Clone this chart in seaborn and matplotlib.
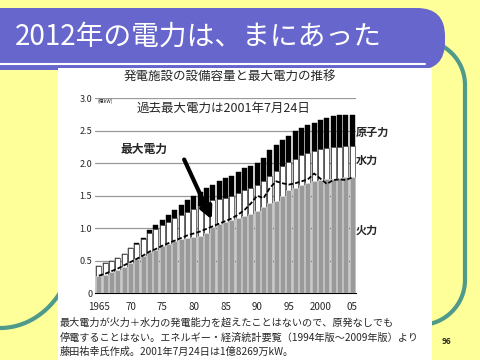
import matplotlib
matplotlib.use("Agg")
import matplotlib.pyplot as plt
import seaborn as sns
import numpy as np
import pandas as pd
from matplotlib.patches import FancyBboxPatch, Rectangle, PathPatch
from matplotlib.path import Path

sns.set_theme(style="white")
plt.rcParams['font.family'] = ['Noto Sans CJK JP', 'DejaVu Sans']

# ---- data (億kW) ----
years = list(range(1965, 2006))
thermal = [0.26, 0.28, 0.32, 0.36, 0.41, 0.47, 0.52, 0.57, 0.63, 0.67,
           0.72, 0.76, 0.80, 0.83, 0.85, 0.86, 0.88, 0.92, 1.02, 1.06,
           1.10, 1.12, 1.15, 1.18, 1.22, 1.27, 1.32, 1.38, 1.42, 1.50,
           1.58, 1.62, 1.66, 1.70, 1.72, 1.74, 1.75, 1.76, 1.77, 1.78, 1.79]
thermal_hydro = [0.42, 0.46, 0.50, 0.54, 0.61, 0.69, 0.76, 0.83, 0.93, 0.99,
                 1.05, 1.10, 1.15, 1.20, 1.25, 1.30, 1.34, 1.38, 1.43, 1.45,
                 1.47, 1.50, 1.54, 1.58, 1.62, 1.67, 1.72, 1.80, 1.88, 1.96,
                 2.02, 2.07, 2.12, 2.16, 2.19, 2.21, 2.23, 2.24, 2.25, 2.26, 2.26]
total = [0.42, 0.46, 0.50, 0.54, 0.61, 0.70, 0.77, 0.85, 0.97, 1.05,
         1.13, 1.20, 1.28, 1.36, 1.44, 1.50, 1.56, 1.62, 1.67, 1.72,
         1.77, 1.80, 1.87, 1.92, 1.96, 2.00, 2.08, 2.20, 2.28, 2.36,
         2.42, 2.49, 2.54, 2.59, 2.62, 2.66, 2.69, 2.73, 2.74, 2.74, 2.74]
peak_demand = [0.27, 0.30, 0.34, 0.38, 0.43, 0.48, 0.53, 0.58, 0.64, 0.68,
               0.73, 0.77, 0.81, 0.85, 0.89, 0.92, 0.95, 0.99, 1.03, 1.07,
               1.11, 1.15, 1.21, 1.28, 1.38, 1.50, 1.46, 1.62, 1.72, 1.69,
               1.67, 1.69, 1.72, 1.75, 1.84, 1.76, 1.68, 1.74, 1.75, 1.74, 1.78]
tick_years = [1965, 1970, 1975, 1980, 1985, 1990, 1995, 2000, 2005]
tick_labels = ["1965", "70", "75", "80", "85", "90", "95", "2000", "05"]
y_ticks = [0, 0.5, 1.0, 1.5, 2.0, 2.5, 3.0]
y_labels = ["0", "0.5", "1.0", "1.5", "2.0", "2.5", "3.0"]

df = pd.DataFrame({"year": [str(y) for y in years],
                   "thermal": thermal, "thermal_hydro": thermal_hydro,
                   "total": total, "peak": peak_demand})

W, H = 480, 360
fig = plt.figure(figsize=(4.8, 3.6), dpi=100)
fig.patch.set_facecolor("#FFFF99")

# decoration layer in pixel coordinates (behind)
bg = fig.add_axes([0, 0, 1, 1], zorder=0)
bg.set_xlim(0, W); bg.set_ylim(H, 0); bg.axis("off")
teal = "#4F9A8A"
k = 0.55
verts = [(380, 40), (420, 40),
         (420 + 45 * k, 40), (465, 85 - 45 * k), (465, 85),
         (465, 280),
         (465, 280 + 45 * k), (420 + 45 * k, 325), (420, 325),
         (380, 325)]
codes = [Path.MOVETO, Path.LINETO,
         Path.CURVE4, Path.CURVE4, Path.CURVE4,
         Path.LINETO,
         Path.CURVE4, Path.CURVE4, Path.CURVE4,
         Path.LINETO]
bg.add_patch(PathPatch(Path(verts, codes), fc="none", ec=teal, lw=3, zorder=0.5))
th = np.linspace(0, np.pi / 2, 60)
bg.plot(75 * np.sin(th), 240 + 88 * np.cos(th), color=teal, lw=3, zorder=0.5)
bg.add_patch(FancyBboxPatch((-40, 8), 485, 62,
                            boxstyle="round,pad=0,rounding_size=28",
                            fc="#6666CC", ec="none", zorder=1))
bg.plot([0, 425], [63.5, 63.5], color="white", lw=1.5, zorder=2)
bg.text(15, 37, "2012年の電力は、まにあった", color="white", fontsize=20,
        va="center", ha="left", zorder=3)
bg.add_patch(Rectangle((58, 68), 374, 292, fc="white", ec="none", zorder=1))

# ---- chart axes ----
ax = fig.add_axes([95 / W, 1 - 293.3 / H, 261 / W, (293.3 - 98) / H], zorder=1)
ax.set_facecolor("white")
for yv in y_ticks[1:]:
    ax.axhline(yv, color="#999999", lw=0.9, zorder=0)

sns.barplot(data=df, x="year", y="total", color="black", width=0.8,
            saturation=1, ax=ax, zorder=2, edgecolor="black", linewidth=0.3)
sns.barplot(data=df, x="year", y="thermal_hydro", color="white", width=0.8,
            saturation=1, ax=ax, zorder=3, edgecolor="#444444", linewidth=0.5)
sns.barplot(data=df, x="year", y="thermal", color="#9a9a9a", width=0.8,
            saturation=1, ax=ax, zorder=4, edgecolor="#dddddd", linewidth=0.5)
xs = np.arange(len(years))
sns.lineplot(x=xs, y=peak_demand, ax=ax, color="black", lw=1.3,
             linestyle=(0, (2.5, 1.2)), zorder=5)

ax.set_xlim(-0.6, len(years) - 0.4)
ax.set_ylim(0, 3.0)
ax.set_yticks(y_ticks)
ax.set_yticklabels(y_labels, fontsize=6.5)
ax.set_xticks([years.index(y) for y in tick_years])
ax.set_xticklabels(tick_labels, fontsize=7)
ax.set_xlabel(""); ax.set_ylabel("")
ax.tick_params(axis="y", length=0, pad=2)
ax.tick_params(axis="x", which="major", length=2.5, width=0.6, pad=4, color="black")
ax.set_xticks(xs, minor=True)
ax.tick_params(axis="x", which="minor", length=2.5, width=0.6, color="black")
for s in ["top", "right", "left"]:
    ax.spines[s].set_visible(False)
ax.spines["bottom"].set_color("black")
ax.spines["bottom"].set_linewidth(0.8)

# overlay layer for annotation texts (on top)
ov = fig.add_axes([0, 0, 1, 1], zorder=5)
ov.set_xlim(0, W); ov.set_ylim(H, 0); ov.axis("off")
ov.patch.set_alpha(0)
ov.text(230, 77, "発電施設の設備容量と最大電力の推移", fontsize=9, ha="center", va="center")
ov.text(224, 108, "過去最大電力は2001年7月24日", fontsize=9, ha="center", va="center")
ov.text(144, 149, "最大電力", fontsize=8.5, ha="center", va="center", fontweight="bold")
ov.text(356, 132, "原子力", fontsize=8, ha="left", va="center", fontweight="bold")
ov.text(356, 160, "水力", fontsize=8, ha="left", va="center", fontweight="bold")
ov.text(356, 230, "火力", fontsize=8, ha="left", va="center", fontweight="bold")
ov.text(98, 101, "(億kW)", fontsize=3.5, ha="left", va="center")
notes = ["最大電力が火力＋水力の発電能力を超えたことはないので、原発なしでも",
         "停電することはない。エネルギー・経済統計要覧（1994年版～2009年版）より",
         "藤田祐幸氏作成。2001年7月24日は1億8269万kW。"]
for i, t in enumerate(notes):
    ov.text(60, 323 + i * 14.5, t, fontsize=7.3, ha="left", va="center")
ov.text(447, 342, "96", fontsize=6, fontweight="bold", ha="center", va="center")
ov.annotate("", xy=(213, 222), xytext=(183, 157),
            arrowprops=dict(arrowstyle="-|>,head_length=0.6,head_width=0.3",
                            color="black", lw=3))

fig.savefig("out.png", dpi=100)
